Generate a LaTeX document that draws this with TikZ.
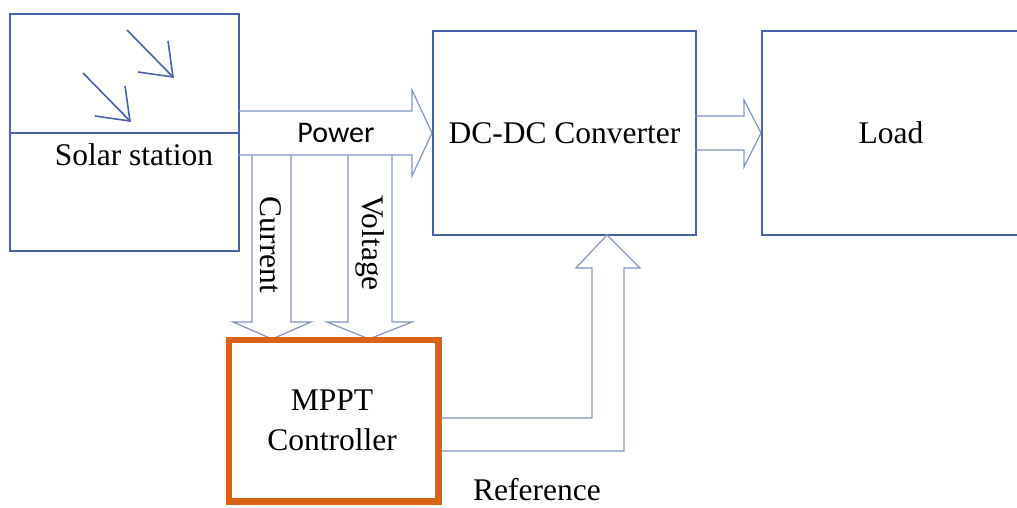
\documentclass[tikz,border=0pt]{standalone}
\usepackage{fontspec}
\setmainfont{Liberation Serif}
\newfontfamily\timesfont{Liberation Serif}
\newfontfamily\calfont{Carlito}
\usetikzlibrary{calc}
\definecolor{boxblue}{RGB}{72,98,168}
\definecolor{arrblue}{RGB}{130,150,192}
\definecolor{mpptor}{RGB}{218,98,22}
\begin{document}
\begin{tikzpicture}[x=1pt,y=-1pt,
  blockbox/.style={draw=boxblue,line width=2pt,fill=white,inner sep=0pt},
  blockarrow/.style={draw=arrblue,line width=1.2pt,line join=miter},
  sunray/.style={draw=boxblue,line width=1.6pt},
  lbl/.style={font=\timesfont\fontsize{31.5}{36}\selectfont,text=black,inner sep=0pt}]
\clip (0,0) rectangle (1017,507);
\fill[white] (0,0) rectangle (1017,507);
% boxes
\node[blockbox,minimum width=229pt,minimum height=237pt] (solar) at (124.5,132.5) {};
\node[blockbox,minimum width=263pt,minimum height=204pt] (conv) at (564.5,133) {};
\node[blockbox,minimum width=258pt,minimum height=204pt] (load) at (891,133) {};
\node[draw=mpptor,line width=4.5pt,minimum width=207pt,minimum height=159pt,inner sep=0pt] (mppt) at (333.5,420.5) {};
% solar divider and rays
\draw[boxblue,line width=2pt] (solar.west) -- (solar.east);
\coordinate (r1s) at (127,30); \coordinate (r1e) at (173,77);
\coordinate (r2s) at (83,73);  \coordinate (r2e) at (130,121);
\draw[sunray] (r1s) -- (r1e);
\draw[sunray] ($(r1e)+(-35,-5)$) -- (r1e) -- ($(r1e)+(-5,-36)$);
\draw[sunray] (r2s) -- (r2e);
\draw[sunray] ($(r2e)+(-35,-5)$) -- (r2e) -- ($(r2e)+(-5,-35)$);
% power arrow
\draw[blockarrow] ($(conv.west)+(-194,-22)$) -- ($(conv.west)+(-20,-22)$) -- ($(conv.west)+(-20,-43)$)
  -- (conv.west) -- ($(conv.west)+(-20,43)$) -- ($(conv.west)+(-20,22)$) -- ($(conv.west)+(-194,22)$);
% current arrow
\coordinate (ctip) at (272,339);
\draw[blockarrow] (252,155) -- (252,322) -- (233,322) -- (ctip) -- (311,322) -- (291,322) -- (291,155);
% voltage arrow
\coordinate (vtip) at (369,339);
\draw[blockarrow] (348,155) -- (348,322) -- (327,322) -- (vtip) -- (412,322) -- (392,322) -- (392,155);
% load arrow
\draw[blockarrow] ($(load.west)+(-66,-17)$) -- ($(load.west)+(-17,-17)$) -- ($(load.west)+(-17,-33)$)
  -- (load.west) -- ($(load.west)+(-17,34)$) -- ($(load.west)+(-17,17)$) -- ($(load.west)+(-66,17)$);
% reference arrow
\coordinate (rtip) at (607,235);
\draw[blockarrow] (437,418) -- (592,418) -- (592,268) -- (576,268) -- (rtip) -- (640,268) -- (624,268) -- (624,451) -- (437,451);
% redraw MPPT border on top
\draw[mpptor,line width=4.5pt] (mppt.north west) rectangle (mppt.south east);
% labels
\node[lbl] (soltxt) at (134,155) {Solar station};
\node[lbl,font=\calfont\fontsize{30}{36}\selectfont] (pow) at (336,133) {Power};
\node[lbl] (convtxt) at (conv.center) {DC-DC Converter};
\node[lbl] (loadtxt) at (load.center) {Load};
\node[lbl,align=center,font=\timesfont\fontsize{31.5}{40}\selectfont] (mppttxt) at (332,420) {MPPT\\Controller};
\node[lbl,rotate=-90] (curtxt) at (271,245) {Current};
\node[lbl,rotate=-90] (volttxt) at (370,243) {Voltage};
\node[lbl] (reftxt) at (537,490) {Reference};
\end{tikzpicture}
\end{document}
